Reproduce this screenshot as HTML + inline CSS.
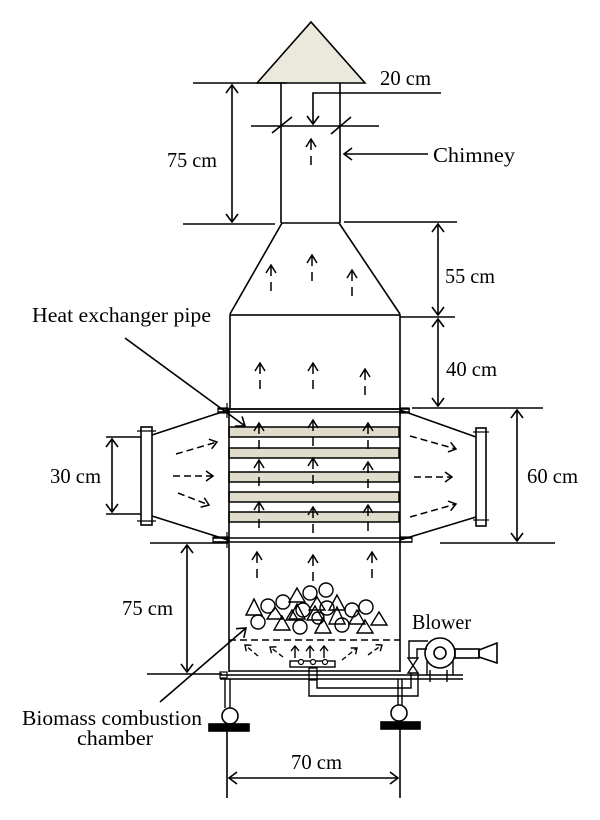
<!DOCTYPE html>
<html>
<head>
<meta charset="utf-8">
<style>
html,body{margin:0;padding:0;background:#fff;}
svg{display:block;}
text{font-family:"Liberation Serif",serif;font-size:21px;fill:#000;}
</style>
</head>
<body>
<svg width="600" height="820" viewBox="0 0 600 820" xmlns="http://www.w3.org/2000/svg">
<defs>
<marker id="ah" viewBox="-10 -7 12 14" refX="0" refY="0" markerWidth="12" markerHeight="14" orient="auto-start-reverse" markerUnits="userSpaceOnUse">
<path d="M-8,-6 L0,0 L-8,6" fill="none" stroke="#000" stroke-width="1.6"/>
</marker>
<marker id="sh" viewBox="-10 -7 12 14" refX="0" refY="0" markerWidth="12" markerHeight="14" orient="auto" markerUnits="userSpaceOnUse">
<path d="M-7,-5 L0,0 L-7,5" fill="none" stroke="#000" stroke-width="1.5"/>
</marker>
<marker id="ss" viewBox="-8 -6 10 12" refX="0" refY="0" markerWidth="10" markerHeight="12" orient="auto" markerUnits="userSpaceOnUse">
<path d="M-5,-4 L0,0 L-5,4" fill="none" stroke="#000" stroke-width="1.4"/>
</marker>
<g id="up"><path d="M-5,8 L0,0 L5,8 M0,0 V11 M0,17 V26" fill="none" stroke="#000" stroke-width="1.5"/></g>
</defs>

<g fill="none" stroke="#000" stroke-width="1.6">
<!-- roof -->
<polygon points="257,83 311,22 365,83" fill="#ebe8dc"/>
<!-- chimney -->
<line x1="281" y1="83" x2="281" y2="223"/>
<line x1="340" y1="83" x2="340" y2="223"/>
<line x1="281" y1="223" x2="340" y2="223"/>
<!-- 75 cm top dim -->
<line x1="193" y1="83" x2="287" y2="83"/>
<line x1="183" y1="224" x2="275" y2="224"/>
<line x1="232" y1="85" x2="232" y2="222" marker-start="url(#ah)" marker-end="url(#ah)"/>
<!-- 20 cm -->
<polyline points="441,93 313,93 313,124" marker-end="url(#ah)"/>
<line x1="251" y1="126" x2="379" y2="126"/>
<line x1="272" y1="133" x2="292" y2="117"/>
<line x1="331" y1="134" x2="351" y2="117"/>
<!-- chimney label arrow -->
<line x1="428" y1="154" x2="344" y2="154" marker-end="url(#ah)"/>

<!-- hood -->
<polyline points="282,223 230,314"/>
<polyline points="339,223 400,314"/>
<rect x="230" y="315" width="170" height="94"/>
<!-- 55/40 dim -->
<line x1="344" y1="222" x2="457" y2="222"/>
<line x1="400" y1="317" x2="455" y2="317"/>
<line x1="412" y1="408" x2="543" y2="408"/>
<line x1="438" y1="224" x2="438" y2="315" marker-start="url(#ah)" marker-end="url(#ah)"/>
<line x1="438" y1="319" x2="438" y2="406" marker-start="url(#ah)" marker-end="url(#ah)"/>

<!-- heat exchanger -->
<g fill="#e0dccb" stroke-width="1.5">
<rect x="229" y="427" width="170" height="10"/>
<rect x="229" y="448" width="170" height="10"/>
<rect x="229" y="472" width="170" height="10"/>
<rect x="229" y="492" width="170" height="10"/>
<rect x="229" y="512" width="170" height="10"/>
</g>
<line x1="229" y1="409" x2="229" y2="672"/>
<line x1="400" y1="409" x2="400" y2="672"/>
<line x1="218" y1="409" x2="410" y2="409" stroke-width="1.4"/>
<line x1="218" y1="412" x2="410" y2="412" stroke-width="1.4"/>
<rect x="218" y="408" width="10" height="5" stroke-width="1.2"/>
<rect x="400" y="408" width="9" height="5" stroke-width="1.2"/>
<line x1="227" y1="403" x2="227" y2="418" stroke-width="1.2"/>
<line x1="400" y1="403" x2="400" y2="418" stroke-width="1.2"/>
<line x1="213" y1="538" x2="412" y2="538" stroke-width="1.4"/>
<line x1="213" y1="542" x2="412" y2="542" stroke-width="1.4"/>
<rect x="213" y="537" width="15" height="5" stroke-width="1.2"/>
<rect x="400" y="537" width="12" height="5" stroke-width="1.2"/>
<line x1="227" y1="532" x2="227" y2="548" stroke-width="1.2"/>
<line x1="400" y1="532" x2="400" y2="548" stroke-width="1.2"/>

<!-- left duct -->
<line x1="228" y1="410" x2="152" y2="435"/>
<line x1="228" y1="540" x2="152" y2="516"/>
<rect x="141" y="427" width="11" height="98"/>
<line x1="137" y1="431" x2="156" y2="431" stroke-width="1.2"/>
<line x1="137" y1="521" x2="156" y2="521" stroke-width="1.2"/>
<line x1="106" y1="437" x2="141" y2="437"/>
<line x1="106" y1="514" x2="141" y2="514"/>
<line x1="112" y1="439" x2="112" y2="512" marker-start="url(#ah)" marker-end="url(#ah)"/>

<!-- right duct -->
<line x1="400" y1="410" x2="476" y2="437"/>
<line x1="400" y1="540" x2="476" y2="517"/>
<rect x="476" y="428" width="10" height="98"/>
<line x1="473" y1="432" x2="489" y2="432" stroke-width="1.2"/>
<line x1="473" y1="520" x2="489" y2="520" stroke-width="1.2"/>
<line x1="440" y1="543" x2="555" y2="543"/>
<line x1="517" y1="410" x2="517" y2="541" marker-start="url(#ah)" marker-end="url(#ah)"/>

<!-- heat exchanger pointer -->
<line x1="125" y1="338" x2="245" y2="426" marker-end="url(#ah)"/>

<!-- duct flow arrows -->
<g stroke-dasharray="7 4" stroke-width="1.5">
<line x1="176" y1="454" x2="217" y2="442" marker-end="url(#sh)"/>
<line x1="173" y1="476" x2="213" y2="476" marker-end="url(#sh)"/>
<line x1="178" y1="493" x2="209" y2="505" marker-end="url(#sh)"/>
<line x1="410" y1="436" x2="456" y2="449" marker-end="url(#sh)"/>
<line x1="414" y1="477" x2="452" y2="477" marker-end="url(#sh)"/>
<line x1="410" y1="517" x2="456" y2="504" marker-end="url(#sh)"/>
</g>

<!-- chamber -->
<line x1="229" y1="671" x2="400" y2="671"/>
<line x1="229" y1="640" x2="400" y2="640" stroke-dasharray="7 4" stroke-width="1.4"/>
<!-- left 75cm dim -->
<line x1="150" y1="543" x2="228" y2="543"/>
<line x1="147" y1="674" x2="222" y2="674"/>
<line x1="187" y1="545" x2="187" y2="672" marker-start="url(#ah)" marker-end="url(#ah)"/>

<!-- fuel -->
<g stroke-width="1.4">
<circle cx="268" cy="606" r="7"/>
<circle cx="283" cy="602" r="7"/>
<circle cx="310" cy="593" r="7"/>
<circle cx="326" cy="590" r="7"/>
<circle cx="352" cy="610" r="7"/>
<circle cx="366" cy="607" r="7"/>
<circle cx="258" cy="622" r="7"/>
<circle cx="300" cy="627" r="7"/>
<circle cx="342" cy="625" r="7"/>
<circle cx="327" cy="608" r="7"/>
<circle cx="303" cy="610" r="7"/>
<circle cx="318" cy="618" r="6"/>
<polygon points="254,599 246,615 262,615"/>
<polygon points="297,588 289,602 305,602"/>
<polygon points="275,607 267,619 283,619"/>
<polygon points="282,616 274,630 290,630"/>
<polygon points="297,604 289,619 305,619"/>
<polygon points="317,597 309,610 325,610"/>
<polygon points="337,595 329,610 345,610"/>
<polygon points="315,606 307,620 323,620"/>
<polygon points="323,618 315,633 331,633"/>
<polygon points="337,607 329,624 345,624"/>
<polygon points="357,610 349,624 365,624"/>
<polygon points="365,620 357,633 373,633"/>
<polygon points="379,612 371,625 387,625"/>
<polygon points="292,610 286,620 298,620"/>
</g>

<!-- small arrows under grate -->
<g stroke-width="1.4">
<line x1="258" y1="656" x2="245" y2="645" stroke-dasharray="5 3" marker-end="url(#ss)"/>
<line x1="283" y1="657" x2="270" y2="647" stroke-dasharray="5 3" marker-end="url(#ss)"/>
<line x1="295" y1="658" x2="295" y2="646" marker-end="url(#ss)"/>
<line x1="310" y1="658" x2="310" y2="646" marker-end="url(#ss)"/>
<line x1="324" y1="658" x2="324" y2="646" marker-end="url(#ss)"/>
<line x1="342" y1="660" x2="357" y2="648" stroke-dasharray="5 3" marker-end="url(#ss)"/>
<line x1="368" y1="655" x2="382" y2="645" stroke-dasharray="5 3" marker-end="url(#ss)"/>
</g>
<!-- burner -->
<rect x="290" y="661" width="45" height="6" stroke-width="1.4"/>
<circle cx="301" cy="662" r="2.5" fill="#fff" stroke-width="1.2"/>
<circle cx="313" cy="662" r="2.5" fill="#fff" stroke-width="1.2"/>
<circle cx="325" cy="662" r="2.5" fill="#fff" stroke-width="1.2"/>
<rect x="309" y="668" width="8" height="12" stroke-width="1.3"/>
<polyline points="309,680 309,696 418,696 418,673" stroke-width="1.4"/>
<polyline points="317,680 317,688 411,688 411,673" stroke-width="1.4"/>

<!-- platform -->
<line x1="220" y1="675" x2="463" y2="675" stroke-width="1.4"/>
<line x1="220" y1="679" x2="463" y2="679" stroke-width="1.4"/>
<rect x="220" y="672" width="7" height="6" stroke-width="1.2"/>
<!-- legs -->
<line x1="225" y1="679" x2="225" y2="708" stroke-width="1.4"/>
<line x1="230" y1="679" x2="230" y2="708" stroke-width="1.4"/>
<circle cx="230" cy="716" r="8"/>
<rect x="209" y="724" width="40" height="7" fill="#000"/>
<line x1="398" y1="679" x2="398" y2="705" stroke-width="1.4"/>
<line x1="402" y1="679" x2="402" y2="705" stroke-width="1.4"/>
<circle cx="399" cy="713" r="8"/>
<rect x="381" y="722" width="39" height="7" fill="#000"/>
<!-- 70 cm dim -->
<line x1="227" y1="731" x2="227" y2="798"/>
<line x1="400" y1="729" x2="400" y2="798"/>
<line x1="229" y1="778" x2="398" y2="778" marker-start="url(#ah)" marker-end="url(#ah)"/>

<!-- blower -->
<polygon points="408,658 418,658 408,673 418,673" stroke-width="1.4"/>
<polyline points="409,658 409,641 428,641" stroke-width="1.4"/>
<polyline points="417,658 417,649 427,649" stroke-width="1.4"/>
<circle cx="440" cy="653" r="15"/>
<circle cx="440" cy="653" r="6"/>
<line x1="427" y1="661" x2="427" y2="675" stroke-width="1.4"/>
<line x1="453" y1="661" x2="453" y2="675" stroke-width="1.4"/>
<line x1="430" y1="670" x2="430" y2="682" stroke-width="1.4"/>
<line x1="447" y1="670" x2="447" y2="682" stroke-width="1.4"/>
<rect x="455" y="649" width="24" height="9"/>
<polygon points="479,650 497,643 497,663 479,657"/>

<!-- biomass pointer -->
<line x1="160" y1="702" x2="246" y2="628" marker-end="url(#ah)"/>
</g>

<!-- flow up arrows -->
<use href="#up" x="311" y="139"/>
<use href="#up" x="271" y="265"/>
<use href="#up" x="312" y="255"/>
<use href="#up" x="352" y="270"/>
<use href="#up" x="260" y="363"/>
<use href="#up" x="313" y="363"/>
<use href="#up" x="365" y="369"/>
<use href="#up" x="259" y="423"/>
<use href="#up" x="313" y="420"/>
<use href="#up" x="368" y="423"/>
<use href="#up" x="259" y="460"/>
<use href="#up" x="313" y="458"/>
<use href="#up" x="368" y="462"/>
<use href="#up" x="259" y="502"/>
<use href="#up" x="313" y="507"/>
<use href="#up" x="368" y="505"/>
<use href="#up" x="257" y="552"/>
<use href="#up" x="313" y="555"/>
<use href="#up" x="372" y="552"/>

<!-- labels -->
<text x="380" y="85" textLength="51" lengthAdjust="spacingAndGlyphs">20 cm</text>
<text x="167" y="167" textLength="50" lengthAdjust="spacingAndGlyphs">75 cm</text>
<text x="433" y="162" textLength="82" lengthAdjust="spacingAndGlyphs">Chimney</text>
<text x="445" y="283" textLength="50" lengthAdjust="spacingAndGlyphs">55 cm</text>
<text x="446" y="376" textLength="51" lengthAdjust="spacingAndGlyphs">40 cm</text>
<text x="32" y="322" textLength="179" lengthAdjust="spacingAndGlyphs">Heat exchanger pipe</text>
<text x="50" y="483" textLength="51" lengthAdjust="spacingAndGlyphs">30 cm</text>
<text x="527" y="483" textLength="51" lengthAdjust="spacingAndGlyphs">60 cm</text>
<text x="122" y="615" textLength="51" lengthAdjust="spacingAndGlyphs">75 cm</text>
<text x="412" y="629" textLength="59" lengthAdjust="spacingAndGlyphs">Blower</text>
<text x="22" y="725" textLength="180" lengthAdjust="spacingAndGlyphs">Biomass combustion</text>
<text x="77" y="745" textLength="76" lengthAdjust="spacingAndGlyphs">chamber</text>
<text x="291" y="769" textLength="51" lengthAdjust="spacingAndGlyphs">70 cm</text>
</svg>
</body>
</html>
